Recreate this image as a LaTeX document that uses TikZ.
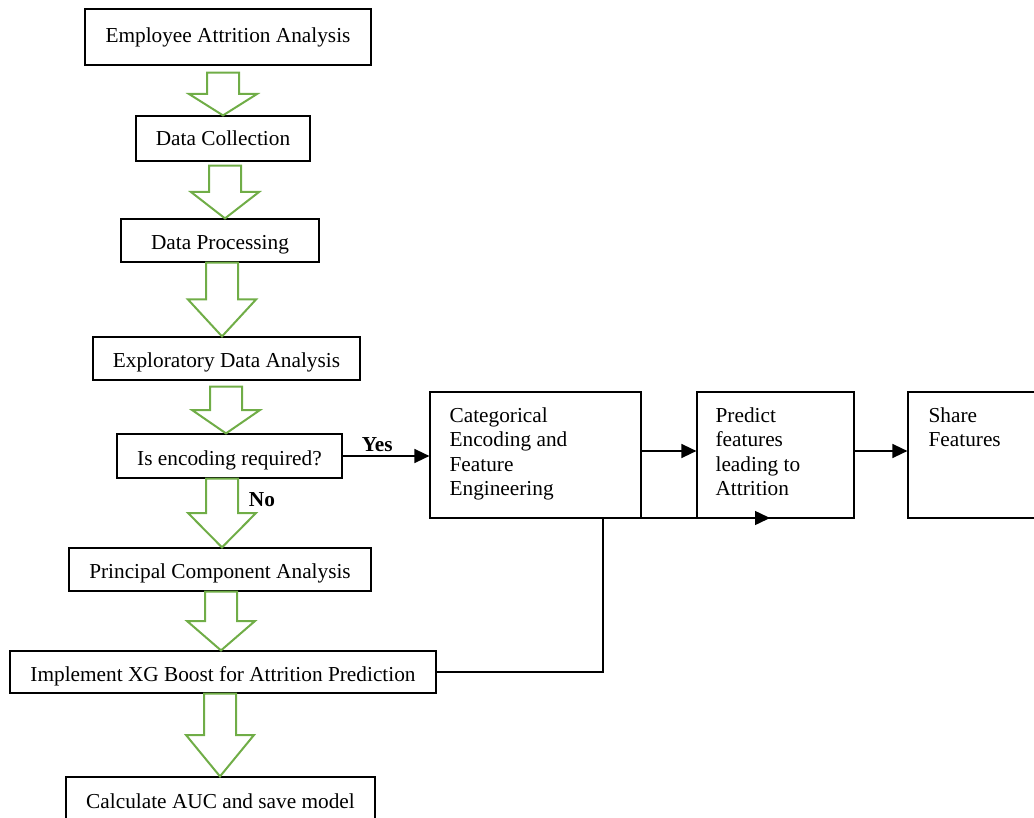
\documentclass[tikz,border=0pt]{standalone}
\usepackage{fontspec}
\setmainfont{Liberation Serif}
\usepackage{tikz}
\usetikzlibrary{arrows.meta,calc}
\definecolor{arrowgreen}{RGB}{112,173,71}

\begin{document}
\begin{tikzpicture}[x=1pt,y=-1pt,
		font=\fontsize{21.3}{24.5}\selectfont,
		stepbox/.style={draw,line width=1.2pt,inner sep=0pt},
		lowtext/.style={text height=23pt,text depth=5pt},
		notes/.style={anchor=north west,align=left,inner sep=0pt},
		blockarrow/.style={draw=arrowgreen,line width=2pt,line join=miter},
		link/.style={line width=1.5pt,-{Triangle[length=15pt,width=14pt]}},
		answer/.style={font=\fontsize{21.3}{24.5}\selectfont\bfseries}]
		\useasboundingbox (0,0) rectangle (1034,818);
		\node[stepbox,minimum width=286pt,minimum height=56pt] (title) at (228,37) {Employee Attrition Analysis};
		\node[stepbox,minimum width=174pt,minimum height=45pt] (collect) at (223,138.5) {Data Collection};
		\node[stepbox,lowtext,minimum width=198pt,minimum height=43pt] (process) at (220,240.5) {Data Processing};
		\node[stepbox,lowtext,minimum width=267pt,minimum height=43pt] (eda) at (226.5,358.5) {Exploratory Data Analysis};
		\node[stepbox,lowtext,minimum width=225pt,minimum height=44pt] (encode) at (229.5,456) {Is encoding required?};
		\node[stepbox,lowtext,minimum width=302pt,minimum height=43pt] (pca) at (220,569.5) {Principal Component Analysis};
		\node[stepbox,lowtext,minimum width=426pt,minimum height=42pt] (xgb) at (223,672) {Implement XG Boost for Attrition Prediction};
		\node[stepbox,minimum width=309pt,minimum height=48pt] (auc) at (220.5,801) {Calculate AUC and save model};
		\node[stepbox,minimum width=211pt,minimum height=126pt] (cat) at (535.5,455) {};
		\node[stepbox,minimum width=157pt,minimum height=126pt] (predict) at (775.5,455) {};
		\node[stepbox,minimum width=140pt,minimum height=126pt] (share) at (978,455) {};
		\node[notes] (cattext) at ($(cat.north west)+(20,16)$) {Categorical\\Encoding and\\Feature\\Engineering};
		\node[notes] (predicttext) at ($(predict.north west)+(19,16)$) {Predict\\features\\leading to\\Attrition};
		\node[notes] (sharetext) at ($(share.north west)+(21,16)$) {Share\\Features};
		\node[answer] (no) at (262,500) {No};
		% green block arrows down the main column
		\foreach \from/\to/\gap/\x in {title/collect/7/223, collect/process/4/225, process/eda/0/222,
				eda/encode/6/226, encode/pca/0/222, pca/xgb/0/221, xgb/auc/0/220} {
			\coordinate (s) at ($(\x,0 |- \from.south)+(0,\gap)$);
			\coordinate (t) at (\x,0 |- \to.north);
			\coordinate (m) at ($(s)!.5!(t)$);
			\draw[blockarrow] ($(s)+(-16,0)$) -- ($(m)+(-16,0)$) -- ($(m)+(-34,0)$) -- (t)
				-- ($(m)+(34,0)$) -- ($(m)+(16,0)$) -- ($(s)+(16,0)$) -- cycle;
		}
		\draw[link] (encode.east) -- node[answer,above,pos=0.4] {Yes} (encode.east -| cat.west);
		\draw[link] ([yshift=4pt]cat.east) -- ([yshift=4pt]predict.west);
		\draw[link] ([yshift=4pt]predict.east) -- ([yshift=4pt]share.west);
		\coordinate (joint) at (603,518);
		\coordinate (tip) at (770,518);
		\draw[link] (xgb.east) -| (joint) -- (tip);
	\end{tikzpicture}
\end{document}
